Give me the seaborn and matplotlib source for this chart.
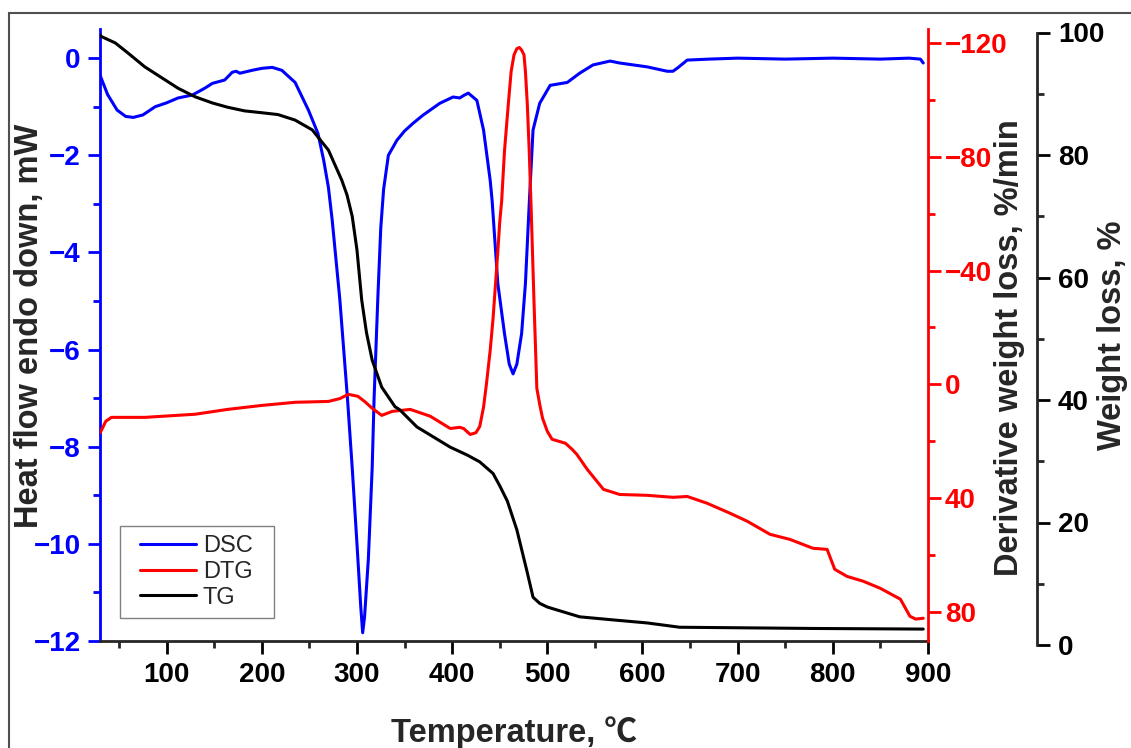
import matplotlib
matplotlib.use('Agg')
import matplotlib.pyplot as plt
from matplotlib.patches import Rectangle
from matplotlib.ticker import MultipleLocator
from matplotlib.legend_handler import HandlerLine2D
import seaborn as sns

# DSC: heat flow (mW) vs temperature
dsc_temp = [30, 38, 48, 57, 65, 75, 88, 100, 112, 127, 140, 148, 161, 169, 173, 177,
            190, 200, 211, 221, 235, 249, 259, 265, 270, 274, 282, 290, 295, 300, 304,
            306, 308, 312, 316, 318, 322, 325, 328, 333, 342, 350, 359, 369, 387, 401,
            408, 412, 417, 426, 433, 440, 442, 448, 455, 460, 464, 468, 473, 477, 481,
            485, 492, 503, 521, 534, 548, 566, 576, 605, 626, 632, 637, 647, 670, 700,
            750, 800, 850, 880, 892, 895]
dsc_flow = [-0.35, -0.75, -1.07, -1.2, -1.22, -1.17, -1.0, -0.92, -0.82, -0.76, -0.62,
            -0.52, -0.45, -0.29, -0.27, -0.31, -0.25, -0.21, -0.19, -0.25, -0.5, -1.07,
            -1.55, -2.1, -2.66, -3.34, -4.97, -7.0, -8.43, -10.0, -11.3, -11.83, -11.5,
            -10.3, -8.43, -7.0, -4.9, -3.5, -2.7, -2.0, -1.69, -1.5, -1.34, -1.18, -0.93,
            -0.8, -0.82, -0.77, -0.72, -0.87, -1.48, -2.52, -2.93, -4.64, -5.67, -6.3,
            -6.5, -6.3, -5.67, -4.64, -3.0, -1.48, -0.93, -0.56, -0.5, -0.31, -0.14,
            -0.06, -0.1, -0.18, -0.27, -0.27, -0.2, -0.04, -0.02, 0.0, -0.02, 0.0,
            -0.02, 0.0, -0.02, -0.1]

# DTG: derivative weight loss (%/min), drawn on an inverted axis
dtg_temp = [30, 32, 36, 42, 77, 130, 164, 200, 235, 270, 282, 291, 301, 308, 316, 326,
            337, 356, 377, 398, 408, 412, 419, 425, 429, 433, 436, 440, 443, 448, 450,
            452, 455, 459, 462, 465, 468, 470.6, 473, 475.5, 477, 479, 481, 483, 486,
            489, 492, 495, 500, 505, 512, 519, 526, 531, 542, 559, 576, 605, 632, 647,
            668, 692, 710, 734, 755, 779, 794, 802, 815, 832, 850, 871, 881, 887, 895]
dtg_rate = [17, 15.8, 13, 11.6, 11.6, 10.5, 8.8, 7.4, 6.3, 6.0, 5.0, 3.5, 4.2, 6, 8.4,
            10.9, 9.5, 8.8, 11.2, 15.5, 15.1, 15.5, 17.6, 17.0, 14.8, 8, 0, -12, -23.2,
            -46.7, -57, -64.3, -82, -98.4, -110, -115.8, -118, -118.4, -117.5, -115.8,
            -110, -98.4, -82, -62, -29.2, 1.4, 7, 11.9, 16.5, 19.3, 20.0, 20.7, 22.8,
            24.6, 29.9, 36.9, 38.7, 39.0, 39.7, 39.4, 41.8, 45.3, 48.1, 52.7, 54.5, 57.6,
            58.0, 65.0, 67.5, 69.2, 71.7, 75.5, 81.5, 82.5, 82.2]

# TG: weight (%) vs temperature
tg_temp = [30, 32, 46, 59, 77, 95, 112, 130, 148, 164, 182, 200, 217, 235, 253, 270,
           284, 289.5, 295, 300, 305, 310, 316, 326, 340, 345, 363, 380, 398, 416, 429,
           443, 450, 458, 468, 479, 485, 492, 500, 534, 569, 605, 639, 710, 779, 895]
tg_weight = [99.6, 99.3, 98.3, 96.7, 94.4, 92.6, 90.9, 89.5, 88.5, 87.8, 87.2, 86.9,
             86.6, 85.7, 84.1, 80.8, 75.9, 73.5, 70.0, 64.5, 56.3, 51.0, 46.5, 42.1,
             38.9, 38.4, 35.6, 34.0, 32.3, 31.0, 29.9, 28.0, 26.0, 23.5, 18.8, 11.8,
             7.8, 6.8, 6.2, 4.6, 4.1, 3.6, 2.9, 2.8, 2.7, 2.6]

sns.set_style('ticks')
plt.rcParams['font.family'] = ['Liberation Sans', 'DejaVu Sans']
plt.rcParams['font.weight'] = 'bold'
plt.rcParams['axes.labelweight'] = 'bold'

W, H = 1131, 748
fig = plt.figure(figsize=(W / 100, H / 100), dpi=100)
ax = fig.add_axes([100 / W, 107 / H, 828 / W, 612 / H])
ax2 = ax.twinx()
ax3 = fig.add_axes([100 / W, 103 / H, 828 / W, 612.5 / H])

lw = 2.2
sns.lineplot(x=dsc_temp, y=dsc_flow, ax=ax, color='#0000ff', lw=lw, sort=False)
sns.lineplot(x=dtg_temp, y=dtg_rate, ax=ax2, color='#ff0000', lw=lw, sort=False)
sns.lineplot(x=tg_temp, y=tg_weight, ax=ax3, color='black', lw=lw, sort=False)

label_size = 23.5

# x axis
ax.set_xlim(30, 900)
ax.xaxis.set_major_locator(MultipleLocator(100))
ax.xaxis.set_minor_locator(MultipleLocator(50))
ax.tick_params(axis='x', which='major', direction='out', length=9, width=2,
               labelsize=20, pad=6, colors='black')
ax.tick_params(axis='x', which='minor', direction='out', length=5, width=2)
ax.spines['bottom'].set_linewidth(2)
ax.spines['top'].set_visible(False)
ax.spines['right'].set_visible(False)
ax.set_xlabel('Temperature, ℃', fontsize=label_size,
              family=['Liberation Sans', 'Noto Sans CJK SC', 'DejaVu Sans'])
ax.xaxis.label.set_va('center')
ax.xaxis.set_label_coords(0.5, -0.15)

# DSC axis (left, blue)
ax.set_ylim(-12, 0.6)
ax.yaxis.set_major_locator(MultipleLocator(2))
ax.yaxis.set_minor_locator(MultipleLocator(1))
ax.tick_params(axis='y', which='major', direction='out', length=9, width=2,
               labelsize=20, pad=5, colors='#0000ff')
ax.tick_params(axis='y', which='minor', direction='out', length=5, width=2,
               colors='#0000ff')
ax.spines['left'].set_color('#0000ff')
ax.spines['left'].set_linewidth(2)
ax.set_ylabel('Heat flow endo down, mW', fontsize=label_size)
ax.yaxis.label.set_va('center')
ax.yaxis.set_label_coords(-0.085, 0.515)

# DTG axis (right, red, inverted)
ax2.set_ylim(90.2, -124.9)
ax2.yaxis.set_major_locator(MultipleLocator(40))
ax2.yaxis.set_minor_locator(MultipleLocator(20))
ax2.tick_params(axis='y', which='major', direction='out', length=9, width=2,
                labelsize=20, pad=3, colors='#ff0000')
ax2.tick_params(axis='y', which='minor', direction='out', length=5, width=2,
                colors='#ff0000')
for side in ['left', 'top', 'bottom']:
    ax2.spines[side].set_visible(False)
ax2.spines['right'].set_color('#ff0000')
ax2.spines['right'].set_linewidth(2)
ax2.set_ylabel('Derivative weight loss, %/min', fontsize=label_size)
ax2.yaxis.label.set_va('center')
ax2.yaxis.set_label_coords(1.099, 0.48)

# TG axis (far right, black)
ax3.set_xlim(30, 900)
ax3.set_ylim(0, 100)
ax3.patch.set_visible(False)
ax3.xaxis.set_visible(False)
for side in ['left', 'top', 'bottom']:
    ax3.spines[side].set_visible(False)
ax3.spines['right'].set_position(('axes', 937 / 828))
ax3.spines['right'].set_linewidth(2)
ax3.yaxis.set_label_position('right')
ax3.yaxis.tick_right()
ax3.yaxis.set_major_locator(MultipleLocator(20))
ax3.yaxis.set_minor_locator(MultipleLocator(10))
ax3.tick_params(axis='y', which='major', direction='out', length=9, width=2,
                labelsize=20, pad=6, colors='black')
ax3.tick_params(axis='y', which='minor', direction='out', length=5, width=2)
ax3.set_ylabel('Weight loss, %', fontsize=label_size)
ax3.yaxis.label.set_va('center')
ax3.yaxis.set_label_coords(1.2234, 0.505)

# legend
handles = [ax.get_lines()[0], ax2.get_lines()[0], ax3.get_lines()[0]]
leg = ax3.legend(handles, ['DSC', 'DTG', 'TG'], loc='lower left', mode='expand',
                 bbox_to_anchor=(20 / 828, 23 / 612, 154 / 828, 0.1),
                 bbox_transform=ax.transAxes,
                 borderaxespad=0, fancybox=False, edgecolor='gray', framealpha=1,
                 prop={'weight': 'normal', 'size': 17}, handlelength=2.8,
                 handler_map={matplotlib.lines.Line2D: HandlerLine2D(xpad=0.45)},
                 labelspacing=0.15, borderpad=0.4, handletextpad=0.3)
leg.get_frame().set_linewidth(1)

# outer frame around the figure
fig.add_artist(Rectangle((9 / W, -0.05), 1.2, 1 - 13 / H + 0.05,
                         transform=fig.transFigure, fill=False,
                         edgecolor='#505050', lw=1.5, clip_on=False))

fig.savefig('out.png', dpi=100)
